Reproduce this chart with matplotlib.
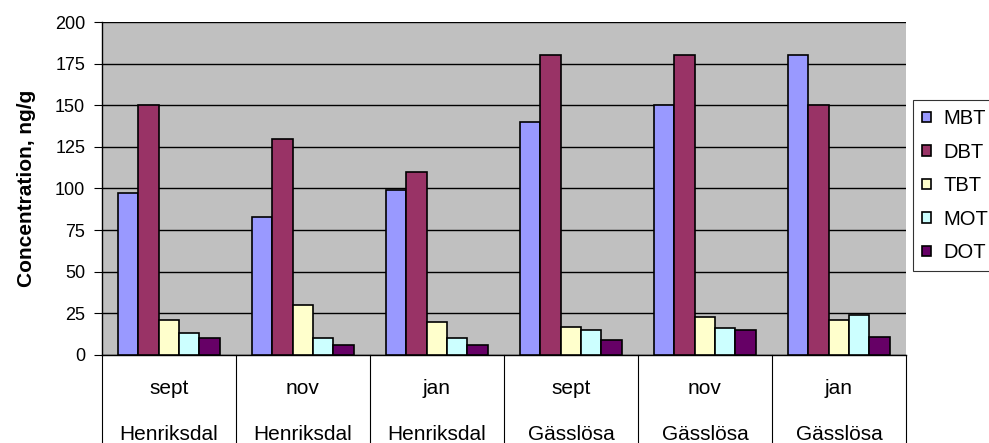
import matplotlib.pyplot as plt
import numpy as np
from matplotlib import rc

rc('font', family=['Liberation Sans', 'DejaVu Sans'])

months = ['sept', 'nov', 'jan', 'sept', 'nov', 'jan']
sites = ['Henriksdal', 'Henriksdal', 'Henriksdal', 'Gässlösa', 'Gässlösa', 'Gässlösa']

series_names = ['MBT', 'DBT', 'TBT', 'MOT', 'DOT']
mbt = [97, 83, 99, 140, 150, 180]
dbt = [150, 130, 110, 180, 180, 150]
tbt = [21, 30, 20, 17, 23, 21]
mot = [13, 10, 10, 15, 16, 24]
dot = [10, 6, 6, 9, 15, 11]
colors = ['#9999FF', '#993366', '#FFFFCC', '#CCFFFF', '#660066']

fig = plt.figure(figsize=(9.89, 4.43), dpi=100)
ax = fig.add_axes([0.103, 0.199, 0.813, 0.751])
ax.set_facecolor('#C0C0C0')

x = np.arange(len(months))
w = 0.152
for i, (vals, name, c) in enumerate(zip([mbt, dbt, tbt, mot, dot], series_names, colors)):
    ax.bar(x + (i - 2) * w, vals, w, color=c, edgecolor='black', linewidth=1.2,
           label=name, zorder=3)

ax.set_xlim(-0.5, len(months) - 0.5)
ax.set_ylim(0, 200)
ax.set_yticks(range(0, 201, 25))
ax.yaxis.grid(True, color='black', linewidth=1)
ax.set_axisbelow(True)
ax.tick_params(axis='y', labelsize=13, direction='out', length=6, width=0.8, pad=6)
ax.set_xticks([])
ax.set_ylabel('Concentration, ng/g', fontsize=15, fontweight='bold')
ax.yaxis.set_label_coords(-0.082, 0.5)
for s in ['top', 'right']:
    ax.spines[s].set_visible(False)
ax.spines['left'].set_linewidth(1)
ax.spines['bottom'].set_linewidth(1)

# category table below the axis
trans = ax.get_xaxis_transform()
for b in np.arange(-0.5, len(months)):
    ax.plot([b, b], [0, -0.27], color='black', linewidth=0.8, transform=trans, clip_on=False)
for i in range(len(months)):
    ax.text(i, -0.117, months[i], transform=trans, ha='center', va='baseline', fontsize=15)
    ax.text(i, -0.255, sites[i], transform=trans, ha='center', va='baseline', fontsize=15)

leg = fig.legend(loc='upper left', bbox_to_anchor=(0.923, 0.774), frameon=True, fancybox=False,
                 edgecolor='black', fontsize=14.5, handlelength=0.45, handleheight=0.45,
                 handletextpad=0.6, labelspacing=0.72, borderpad=0.45, borderaxespad=0)
leg.get_frame().set_linewidth(0.8)

fig.savefig('out.png', dpi=100, facecolor='white')
